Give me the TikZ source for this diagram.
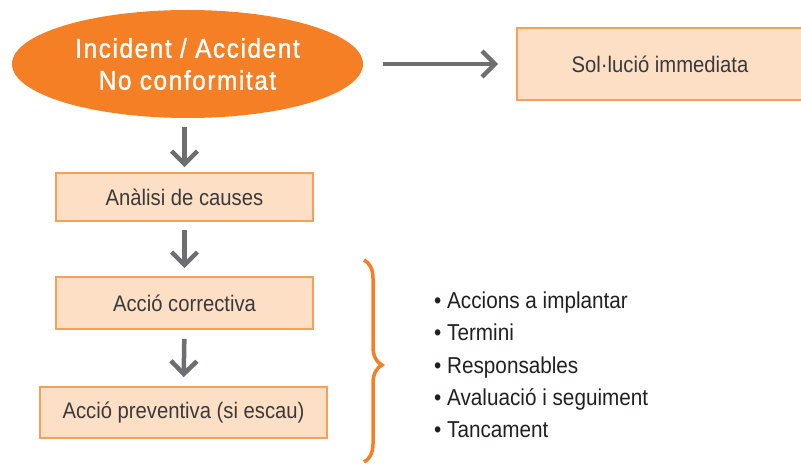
\documentclass[tikz,border=0pt]{standalone}
\usepackage{fontspec}
\setmainfont{Liberation Sans}[FakeStretch=0.9]
\usetikzlibrary{shapes.geometric,arrows.meta,decorations.pathreplacing}
\definecolor{orng}{HTML}{F47F24}
\definecolor{peach}{HTML}{FDDFC6}
\definecolor{peachline}{HTML}{F7A05A}
\definecolor{arrgray}{HTML}{6D6E71}
\definecolor{boxtext}{HTML}{3A3A3A}
\definecolor{listtext}{HTML}{231F20}
\begin{document}
\begin{tikzpicture}[x=1pt,y=-1pt,
  stepbox/.style={draw=peachline, line width=1.6pt, fill=peach, text=boxtext,
    font=\fontsize{22.5}{26}\selectfont, inner sep=0pt, anchor=center},
  arr/.style={draw=arrgray, line width=4.5pt,
    -{Straight Barb[length=13pt,width=26pt]}},
  item/.style={anchor=base west, inner sep=0pt, text=listtext,
    font=\fontsize{23}{28}\selectfont}]
\useasboundingbox (0,0) rectangle (801,468);
\node[ellipse, fill=orng, minimum width=351pt, minimum height=108pt, inner sep=0pt,
  text=white, align=center,
  font=\fontsize{27}{32}\selectfont\addfontfeatures{FakeBold=1.2,LetterSpace=6}]
  (inc) at (187.5,64) {Incident / Accident\\No conformitat};
\node[stepbox, minimum width=286pt, minimum height=72pt] (sol) at (660,64) {Sol·lució immediata};
\node[stepbox, minimum width=257pt, minimum height=48pt] (ana) at (184.5,197) {Anàlisi de causes};
\node[stepbox, minimum width=257pt, minimum height=52pt] (cor) at (184.5,303) {Acció correctiva};
\node[stepbox, minimum width=287pt, minimum height=51pt] (pre) at (183.5,412.5) {Acció preventiva (si escau)};
\draw[arr, shorten <=20pt, shorten >=18pt] (inc.east) -- (sol.west);
\draw[arr, shorten <=9pt, shorten >=5pt] (ana.north |- inc.south) -- (ana.north);
\draw[arr, shorten <=8pt, shorten >=8pt] (ana.south) -- (cor.north);
\draw[arr, shorten <=9pt, shorten >=9pt] (cor.south) -- (pre.north);
\coordinate (bt) at (364,260);
\coordinate (bb) at (364,462);
\draw[orng, line width=3.5pt, decorate,
  decoration={brace, amplitude=18pt, aspect=0.52}] (bt) -- (bb);
\node[item] (l1) at (434,308) {• Accions a implantar};
\node[item] (l2) at (434,340) {• Termini};
\node[item] (l3) at (434,373) {• Responsables};
\node[item] (l4) at (434,405) {• Avaluació i seguiment};
\node[item] (l5) at (434,437) {• Tancament};
\end{tikzpicture}
\end{document}
